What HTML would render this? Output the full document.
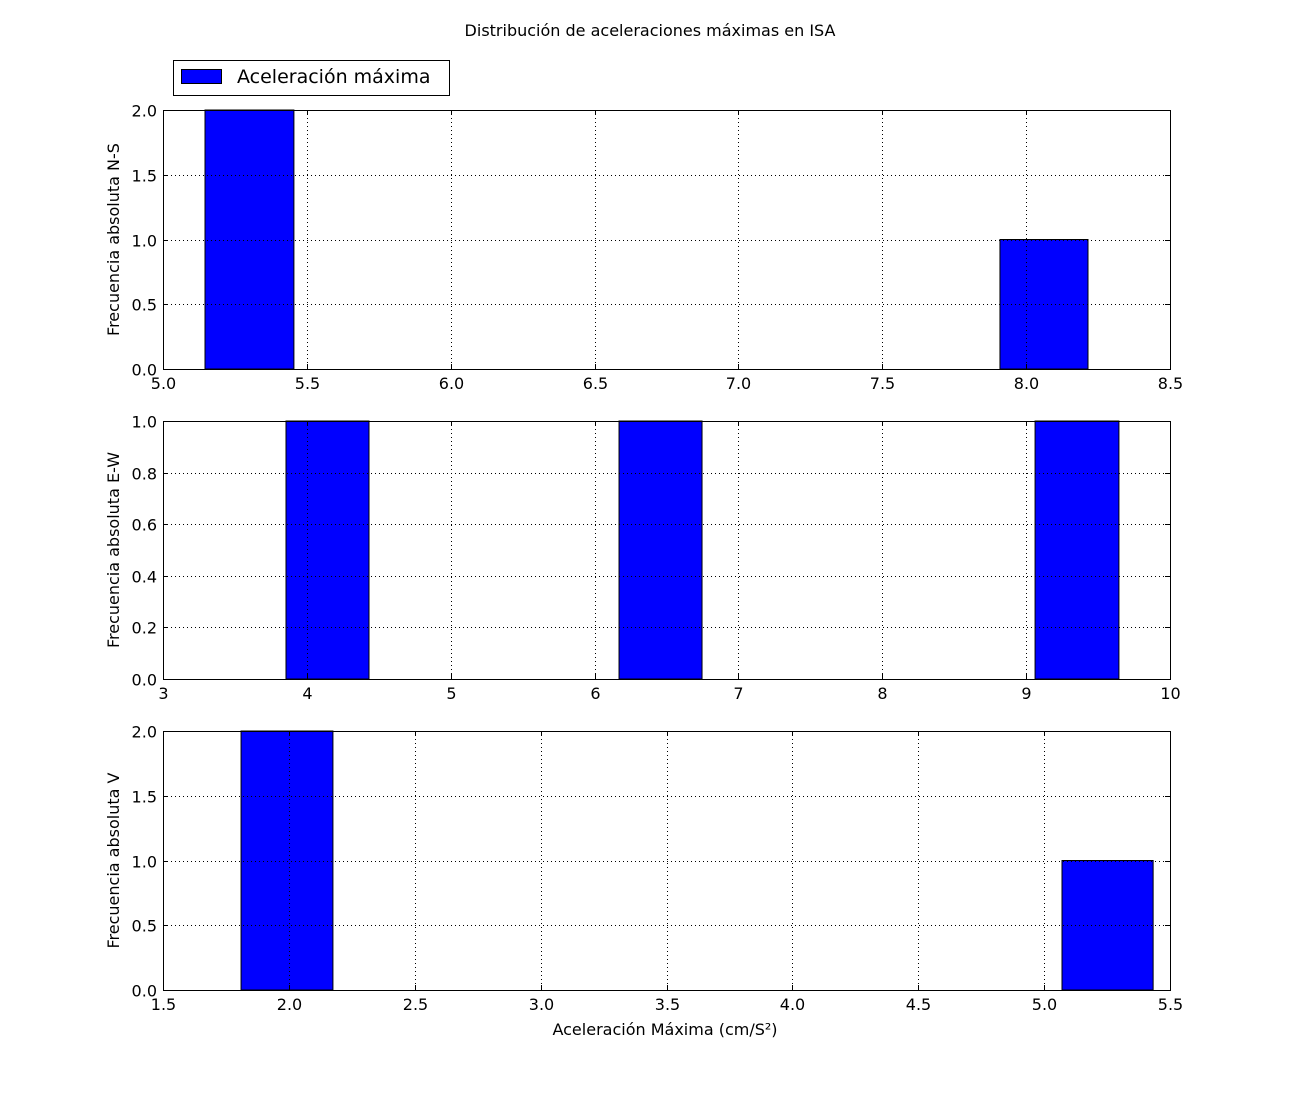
<!DOCTYPE html>
<html><head><meta charset="utf-8"><style>
body{margin:0;background:#fff;}
svg text{font-family:"DejaVu Sans","Liberation Sans",sans-serif;fill:#000;}
</style></head><body>
<svg id="chart" width="1300" height="1100" xmlns="http://www.w3.org/2000/svg">
<rect width="1300" height="1100" fill="#fff"/>
<text x="650" y="36" font-size="16" text-anchor="middle">Distribución de aceleraciones máximas en ISA</text>
<g>
<rect x="173.5" y="60.5" width="276" height="35" fill="#fff" stroke="#000"/>
<rect x="181.5" y="69.5" width="40" height="14" fill="#0000ff" stroke="#000"/>
<text x="237" y="83" font-size="19">Aceleración máxima</text>
</g>
<text x="665" y="1035" font-size="16" text-anchor="middle">Aceleración Máxima (cm/S²)</text>
</svg>
<script>
// Panel 1 (N-S)
const nsLeft=[5.146,7.909];
const nsRight=[5.455,8.215];
const nsCounts=[2,1];
const nsXTicks=[5.0,5.5,6.0,6.5,7.0,7.5,8.0,8.5];
const nsYTicks=[0.0,0.5,1.0,1.5,2.0];
// Panel 2 (E-W)
const ewLeft=[3.855,6.17,9.062];
const ewRight=[4.432,6.747,9.645];
const ewCounts=[1,1,1];
const ewXTicks=[3,4,5,6,7,8,9,10];
const ewYTicks=[0.0,0.2,0.4,0.6,0.8,1.0];
// Panel 3 (V)
const vLeft=[1.81,5.071];
const vRight=[2.175,5.433];
const vCounts=[2,1];
const vXTicks=[1.5,2.0,2.5,3.0,3.5,4.0,4.5,5.0,5.5];
const vYTicks=[0.0,0.5,1.0,1.5,2.0];

const svg=document.getElementById('chart');
const NS='http://www.w3.org/2000/svg';
function mk(t,a,p){const e=document.createElementNS(NS,t);for(const k in a)e.setAttribute(k,a[k]);p.appendChild(e);return e;}
function panel(id,top,bottom,xt,yt,L,R,C,ylabel,xdec,ydec){
  const x0=163,x1=1170;
  const g=mk('g',{},svg);
  
  
  const xmin=xt[0],xmax=xt[xt.length-1],ymin=yt[0],ymax=yt[yt.length-1];
  const sx=v=>x0+(v-xmin)/(xmax-xmin)*(x1-x0);
  const sy=v=>bottom-(v-ymin)/(ymax-ymin)*(bottom-top);
  for(let i=0;i<C.length;i++){
    const b=mk('rect',{x:sx(L[i]),y:sy(C[i]),width:sx(R[i])-sx(L[i]),height:sy(0)-sy(C[i]),fill:'#0000ff',stroke:'#000','stroke-width':1},g);
    
    
  }
  xt.forEach(v=>{
    const x=Math.round(sx(v))+0.5;
    mk('line',{x1:x,x2:x,y1:top,y2:bottom,stroke:'#000','stroke-dasharray':'1,3','stroke-width':1},g);
    mk('line',{x1:x,x2:x,y1:bottom,y2:bottom-5,stroke:'#000'},g);
    mk('line',{x1:x,x2:x,y1:top,y2:top+5,stroke:'#000'},g);
    const t=mk('text',{x:x,y:bottom+20,'font-size':16,'text-anchor':'middle'},g);
    t.textContent=v.toFixed(xdec);
    
    
  });
  yt.forEach(v=>{
    const y=Math.round(sy(v))+0.5;
    mk('line',{x1:x0,x2:x1,y1:y,y2:y,stroke:'#000','stroke-dasharray':'1,3','stroke-width':1},g);
    mk('line',{x1:x0,x2:x0+5,y1:y,y2:y,stroke:'#000'},g);
    mk('line',{x1:x1,x2:x1-5,y1:y,y2:y,stroke:'#000'},g);
    const t=mk('text',{x:x0-6,y:y+6,'font-size':16,'text-anchor':'end'},g);
    t.textContent=v.toFixed(ydec);
    
    
  });
  mk('rect',{x:x0+0.5,y:top+0.5,width:x1-x0,height:bottom-top,fill:'none',stroke:'#000'},g);
  const cy=(top+bottom)/2;
  const yl=mk('text',{x:119,y:cy,'font-size':16,'text-anchor':'middle',transform:'rotate(-90 119 '+cy+')'},g);
  yl.textContent=ylabel;
  
  
}
panel('ns',110,369,nsXTicks,nsYTicks,nsLeft,nsRight,nsCounts,'Frecuencia absoluta N-S',1,1);
panel('ew',421,679,ewXTicks,ewYTicks,ewLeft,ewRight,ewCounts,'Frecuencia absoluta E-W',0,1);
panel('v',731,990,vXTicks,vYTicks,vLeft,vRight,vCounts,'Frecuencia absoluta V',1,1);
</script>
</body></html>
